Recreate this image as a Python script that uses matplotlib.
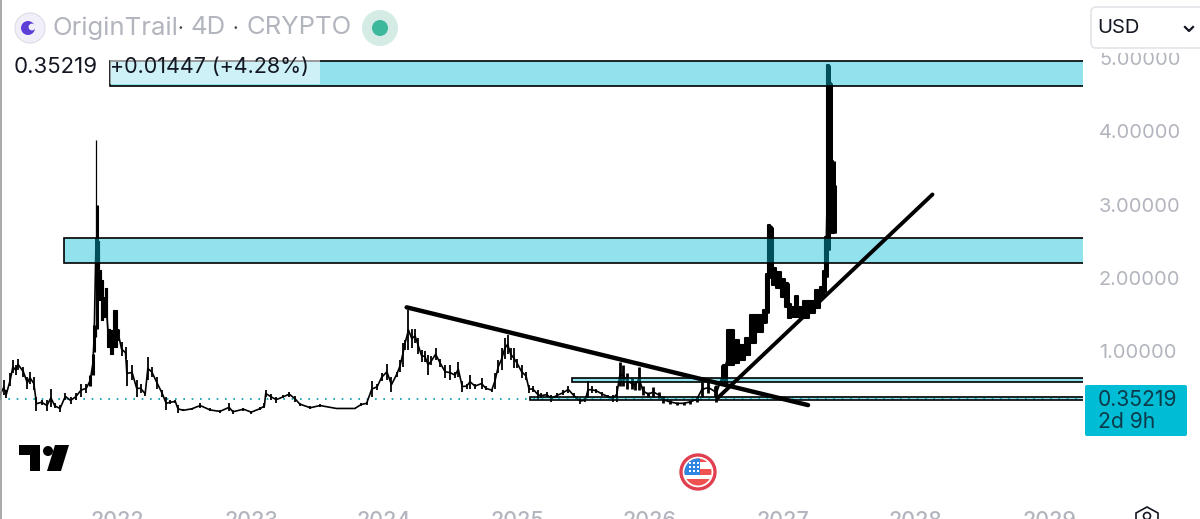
import numpy as np
import matplotlib
matplotlib.use("Agg")
import matplotlib.pyplot as plt
from matplotlib.patches import Circle, FancyBboxPatch, Polygon, Rectangle

plt.rcParams['font.family'] = ['Inter', 'DejaVu Sans']

# candles (time position, high, low)
times = [2021.09, 2021.12, 2021.14, 2021.17, 2021.19, 2021.21, 2021.23, 2021.27, 2021.30, 2021.32,
         2021.35, 2021.37, 2021.41, 2021.45, 2021.48, 2021.51, 2021.55, 2021.59, 2021.63, 2021.67,
         2021.71, 2021.75, 2021.78, 2021.80, 2021.81, 2021.825, 2021.832, 2021.843, 2021.855, 2021.871,
         2021.886, 2021.90, 2021.92, 2021.944, 2021.97, 2021.995, 2022.02, 2022.05, 2022.06, 2022.10,
         2022.135, 2022.165, 2022.20, 2022.22, 2022.25, 2022.29, 2022.33, 2022.36, 2022.39, 2022.43,
         2022.45, 2022.49, 2022.555, 2022.62, 2022.695, 2022.77, 2022.84, 2022.87, 2022.95, 2023.01,
         2023.08, 2023.11, 2023.12, 2023.16, 2023.20, 2023.255, 2023.30, 2023.345, 2023.38, 2023.46,
         2023.535, 2023.66, 2023.80, 2023.85, 2023.89, 2023.93, 2023.97, 2024.005, 2024.045, 2024.08,
         2024.12, 2024.145, 2024.165, 2024.18, 2024.21, 2024.235, 2024.26, 2024.285, 2024.31, 2024.335,
         2024.36, 2024.385, 2024.417, 2024.45, 2024.49, 2024.527, 2024.565, 2024.59, 2024.62, 2024.654,
         2024.68, 2024.717, 2024.768, 2024.80, 2024.845, 2024.87, 2024.895, 2024.92, 2024.945, 2024.967,
         2024.99, 2025.015, 2025.04, 2025.074, 2025.107, 2025.13, 2025.16, 2025.20, 2025.225, 2025.265,
         2025.30, 2025.34, 2025.39, 2025.43, 2025.47, 2025.52, 2025.56, 2025.58, 2025.61, 2025.645,
         2025.685, 2025.735, 2025.77, 2025.80, 2025.825, 2025.85, 2025.88, 2025.915, 2025.94, 2025.97,
         2026.00, 2026.04, 2026.08, 2026.12, 2026.155, 2026.205, 2026.26, 2026.31, 2026.36, 2026.41,
         2026.45, 2026.50, 2026.55, 2026.56, 2026.61, 2026.67, 2026.715, 2026.755, 2026.80, 2026.84,
         2026.89, 2026.935, 2026.95, 2026.965, 2026.975, 2027.00, 2027.03, 2027.07, 2027.10, 2027.115,
         2027.145, 2027.17, 2027.20, 2027.245, 2027.29, 2027.33, 2027.365, 2027.38, 2027.397, 2027.412,
         2027.43, 2027.448, 2027.46]
highs = [0.45, 0.61, 0.47, 0.70, 0.88, 0.81, 0.90, 0.79, 0.65, 0.72,
         0.65, 0.38, 0.34, 0.33, 0.49, 0.29, 0.27, 0.43, 0.38, 0.43,
         0.56, 0.56, 0.68, 0.97, 1.36, 3.88, 3.00, 2.50, 2.11, 1.97,
         1.74, 1.86, 1.31, 1.29, 1.56, 1.31, 1.13, 1.06, 0.88, 0.81,
         0.61, 0.56, 0.45, 0.92, 0.79, 0.65, 0.47, 0.38, 0.33, 0.34,
         0.27, 0.21, 0.23, 0.29, 0.22, 0.20, 0.29, 0.20, 0.23, 0.19,
         0.24, 0.29, 0.47, 0.42, 0.38, 0.40, 0.45, 0.39, 0.30, 0.25,
         0.28, 0.23, 0.23, 0.30, 0.31, 0.59, 0.56, 0.70, 0.83, 0.65,
         0.72, 0.88, 1.11, 1.15, 1.56, 1.31, 1.31, 1.18, 1.02, 1.00,
         0.95, 0.93, 1.04, 0.90, 0.81, 0.81, 0.72, 0.86, 0.59, 0.56,
         0.68, 0.56, 0.63, 0.52, 0.49, 0.70, 0.88, 1.04, 1.18, 1.22,
         1.04, 1.04, 0.90, 0.81, 0.72, 0.54, 0.52, 0.47, 0.43, 0.45,
         0.40, 0.43, 0.47, 0.53, 0.43, 0.36, 0.36, 0.59, 0.52, 0.49,
         0.45, 0.40, 0.40, 0.52, 0.86, 0.81, 0.70, 0.63, 0.59, 0.79,
         0.52, 0.45, 0.51, 0.45, 0.39, 0.34, 0.31, 0.31, 0.34, 0.38,
         0.58, 0.58, 0.52, 0.54, 0.81, 1.29, 1.15, 1.09, 1.18, 1.49,
         1.49, 1.56, 2.06, 2.72, 2.70, 2.13, 2.08, 1.99, 1.93, 1.65,
         1.61, 1.75, 1.61, 1.68, 1.68, 1.84, 1.88, 2.09, 2.56, 4.91,
         4.66, 3.59, 3.27]
lows = [0.36, 0.40, 0.36, 0.52, 0.70, 0.68, 0.74, 0.65, 0.49, 0.56,
        0.47, 0.19, 0.27, 0.19, 0.24, 0.22, 0.17, 0.34, 0.28, 0.33,
        0.38, 0.43, 0.52, 0.68, 0.99, 1.20, 1.30, 1.70, 1.70, 1.43,
        1.47, 1.47, 1.06, 0.97, 1.06, 1.15, 0.93, 0.90, 0.52, 0.61,
        0.38, 0.43, 0.39, 0.61, 0.65, 0.49, 0.38, 0.20, 0.28, 0.29,
        0.16, 0.18, 0.20, 0.23, 0.18, 0.16, 0.18, 0.15, 0.19, 0.15,
        0.20, 0.22, 0.38, 0.34, 0.30, 0.36, 0.38, 0.31, 0.26, 0.21,
        0.24, 0.21, 0.21, 0.25, 0.27, 0.38, 0.47, 0.59, 0.61, 0.44,
        0.65, 0.72, 0.79, 1.02, 1.02, 1.04, 1.11, 0.97, 0.86, 0.86,
        0.68, 0.81, 0.88, 0.79, 0.63, 0.61, 0.63, 0.65, 0.45, 0.49,
        0.49, 0.49, 0.49, 0.47, 0.45, 0.49, 0.70, 0.74, 0.90, 0.97,
        0.88, 0.77, 0.77, 0.63, 0.61, 0.43, 0.45, 0.34, 0.36, 0.37,
        0.31, 0.36, 0.40, 0.43, 0.37, 0.28, 0.31, 0.36, 0.43, 0.43,
        0.39, 0.36, 0.31, 0.31, 0.52, 0.52, 0.49, 0.49, 0.47, 0.47,
        0.40, 0.38, 0.38, 0.36, 0.29, 0.28, 0.27, 0.27, 0.28, 0.31,
        0.38, 0.43, 0.38, 0.31, 0.56, 0.81, 0.84, 0.88, 0.95, 1.11,
        1.27, 1.38, 1.52, 2.00, 2.06, 1.90, 1.86, 1.74, 1.61, 1.45,
        1.47, 1.47, 1.47, 1.45, 1.52, 1.59, 1.74, 1.81, 2.02, 2.38,
        2.61, 2.61, 2.61]

last_price = 0.35219

# price levels of the drawn zones: start, top, bottom
zone_starts = [2021.93, 2021.577, 2025.46, 2025.137]
zone_tops = [4.96, 2.545, 0.64, 0.38]
zone_bottoms = [4.62, 2.20, 0.585, 0.33]
zone_end = 2029.6  # runs off the plot area, so no right edge shows

# hand drawn trend lines
falling_x = [2024.196, 2027.26]
falling_y = [1.60, 0.266]
rising_x = [2026.57, 2028.21]
rising_y = [0.363, 3.14]

price_ticks = [1, 2, 3, 4, 5]
year_pos = [2021.99, 2023.008, 2024.02, 2025.04, 2026.05, 2027.07, 2028.08, 2029.10]
year_labels = ['2022', '2023', '2024', '2025', '2026', '2027', '2028', '2029']

GREY = '#b2b5be'
CYAN = '#00bcd4'

fig = plt.figure(figsize=(12, 5.19), dpi=100)
ax = fig.add_axes([0, 14 / 519, 1083 / 1200, 505 / 519])
ax.set_xlim(2021.0916, 2029.359)
ax.set_ylim(-1.097, 5.793)
for s in ax.spines.values():
    s.set_visible(False)

times = np.array(times)
highs = np.array(highs)
lows = np.array(lows)

# candles get fatter towards the right of the picture
widths = np.full(len(times), 1.3)
widths[(times > 2021.75) & (times < 2022.0)] = 2.2
widths[(times > 2021.82) & (times < 2021.83)] = 0.9
widths[(times > 2025.8) & (times < 2026.6)] = 2.0
widths[times >= 2026.6] = 3.6
ax.vlines(times, lows, highs, colors='black', linewidths=widths, zorder=2)
ax.plot(times, (highs + lows) / 2, color='black', lw=1.2, zorder=2)

# the thick stretches read as a solid band
late = times >= 2026.6
ax.fill_between(times[late], lows[late], highs[late], step='mid', color='black', lw=1.5, zorder=2)
spike = (times > 2021.84) & (times < 2022.0)
ax.fill_between(times[spike], lows[spike], highs[spike], step='mid', color='black', lw=0.8, zorder=2)

ax.plot([2021.09, zone_end], [last_price, last_price], color='#0097a7', lw=1.2,
        ls=(0, (1, 4)), zorder=1)

for start, top, bottom in zip(zone_starts, zone_tops, zone_bottoms):
    ax.add_patch(Rectangle((start, bottom), zone_end - start, top - bottom,
                           facecolor=(0, 0.737, 0.831, 0.43), edgecolor='black', lw=1.2, zorder=3))

ax.plot(falling_x, falling_y, color='black', lw=3.2, solid_capstyle='round', zorder=4)
ax.plot(rising_x, rising_y, color='black', lw=2.8, solid_capstyle='round', zorder=4)

ax.yaxis.tick_right()
ax.set_yticks(price_ticks)
ax.set_yticklabels(['%.5f' % p for p in price_ticks])
ax.set_xticks(year_pos)
ax.set_xticklabels(year_labels)
ax.tick_params(axis='y', length=0, pad=11.5, labelsize=14.4, labelcolor=GREY)
ax.tick_params(axis='x', length=0, pad=4, labelsize=15.5, labelcolor=GREY)
for lbl in ax.get_xticklabels():
    lbl.set_fontweight('medium')

# screen furniture, in pixels on top of the chart
ov = fig.add_axes([0, 0, 1, 1], zorder=5)
ov.set_xlim(0, 1200)
ov.set_ylim(519, 0)
ov.axis('off')
ov.patch.set_alpha(0)

ov.plot([0.5, 0.5], [0, 519], color='#9a9a9a', lw=1.2)

# symbol logo
ov.add_patch(Circle((30, 28), 15, facecolor='#f1f0fa', edgecolor='#dcdce6', lw=0.8))
ov.add_patch(Circle((28, 28), 7, facecolor='#5b3fd6', edgecolor='none'))
ov.add_patch(Circle((32, 27), 3.4, facecolor='#f1f0fa', edgecolor='none'))
ov.text(52, 28, 'OriginTrail', color=GREY, fontsize=18.5, va='center', ha='left')
ov.text(180.5, 30, '·', color='#444444', fontsize=14, va='center', ha='center')
ov.text(191, 28, '4D', color=GREY, fontsize=18.5, va='center', ha='left')
ov.text(235, 30, '·', color='#444444', fontsize=14, va='center', ha='center')
ov.text(246, 28, 'CRYPTO', color=GREY, fontsize=18.5, va='center', ha='left')
ov.add_patch(Circle((380, 28), 18, facecolor='#d5ebe6', edgecolor='none'))
ov.add_patch(Circle((380, 28), 8, facecolor='#3cb89d', edgecolor='none'))

# USD button, its white backing hides the top of the 5.00000 label
ov.add_patch(Rectangle((1088, 0), 112, 53, facecolor='white', edgecolor='none'))
ov.add_patch(FancyBboxPatch((1091, 7), 130, 41, boxstyle='round,pad=0,rounding_size=5',
                            facecolor='white', edgecolor='#e3e4e8', lw=1.2))
ov.text(1097, 28, 'USD', color='#131722', fontsize=14.5, va='center', ha='left')
ov.plot([1185, 1189, 1193], [27, 31, 27], color='#131722', lw=1.6)

# legend line
ov.add_patch(Rectangle((110, 60), 210, 24, facecolor=(1, 1, 1, 0.55), edgecolor='none'))
ov.text(14, 67, '%.5f' % last_price, color='#131722', fontsize=16, va='center', ha='left')
ov.text(110, 67, '+0.01447 (+4.28%)', color='#131722', fontsize=15.5, va='center', ha='left')

# last price label
ov.add_patch(FancyBboxPatch((1085, 385), 102, 51, boxstyle='round,pad=0,rounding_size=2',
                            facecolor=CYAN, edgecolor='none'))
ov.text(1098, 400, '%.5f' % last_price, color='#0b3a4a', fontsize=15.2, va='center', ha='left')
ov.text(1098, 422, '2d 9h', color='#0b3a4a', fontsize=15.2, va='center', ha='left')

# TradingView mark
ov.add_patch(Polygon([(19, 445), (40, 445), (40, 471), (30, 471), (30, 455), (19, 455)],
                     facecolor='black', edgecolor='none'))
ov.add_patch(Circle((48, 451), 5, facecolor='black', edgecolor='none'))
ov.add_patch(Polygon([(55, 445), (69, 445), (61, 471), (47, 471)], facecolor='black', edgecolor='none'))

# US economic event flag
ov.add_patch(Circle((698, 472), 17, facecolor='white', edgecolor='#e0404f', lw=2.4))
flag_clip = Circle((698, 472), 13.5, transform=ov.transData)
for y0, h in [(458, 4), (469, 6), (479, 8)]:
    stripe = Rectangle((684, y0), 28, h, facecolor='#f05252', edgecolor='none')
    ov.add_patch(stripe)
    stripe.set_clip_path(flag_clip)
canton = Rectangle((684, 458), 16, 17, facecolor='#2f86e0', edgecolor='none')
ov.add_patch(canton)
canton.set_clip_path(flag_clip)
for sx in (689, 693, 697):
    for sy in (462, 466, 470):
        ov.add_patch(Rectangle((sx, sy), 1.6, 1.6, facecolor='white', edgecolor='none'))

# settings hexagon, cut off by the bottom edge
ov.add_patch(Polygon([(1147, 507), (1158, 513), (1158, 527), (1136, 527), (1136, 513)],
                     facecolor='white', edgecolor='#131722', lw=1.2))
ov.add_patch(Circle((1147, 516), 3.5, facecolor='white', edgecolor='#131722', lw=1.2))

fig.savefig('out.png', dpi=100)
